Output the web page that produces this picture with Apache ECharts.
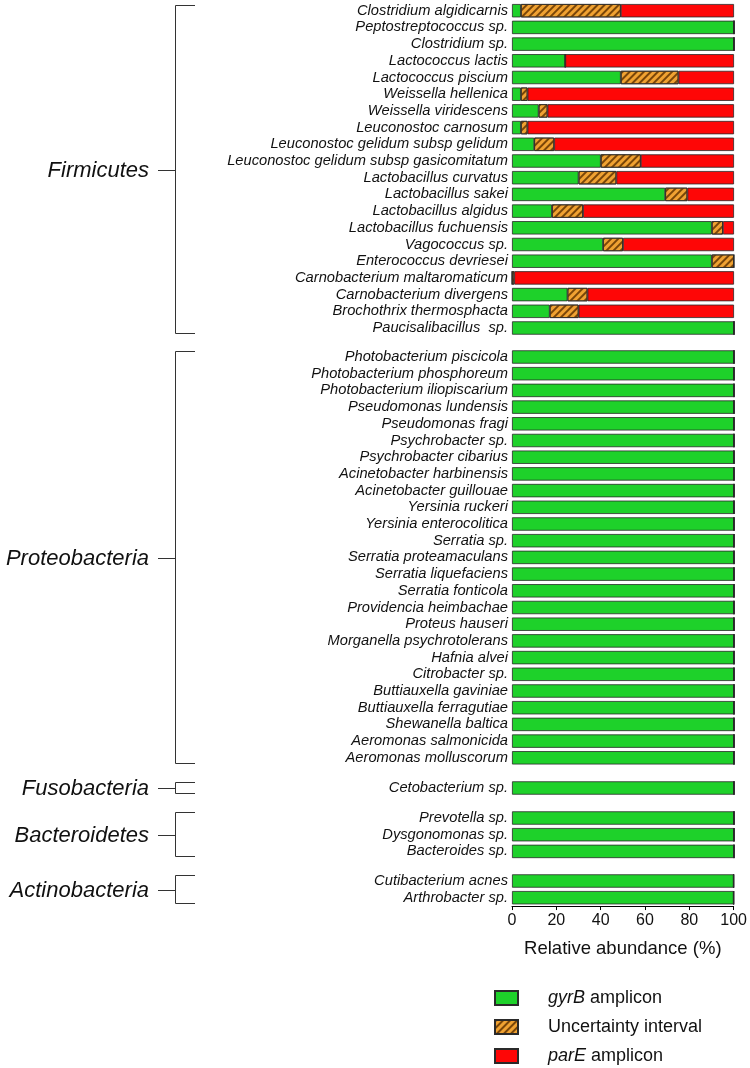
<!DOCTYPE html>
<html><head><meta charset="utf-8">
<script src="https://cdn.jsdelivr.net/npm/echarts@6/dist/echarts.min.js"></script>
<style>html,body{margin:0;padding:0;background:#fff}#c{width:750px;height:1068px}</style>
</head><body><div id="c"></div>
<script>
const groups = ['Firmicutes', 'Proteobacteria', 'Fusobacteria', 'Bacteroidetes', 'Actinobacteria'];
const groupSizes = [20, 25, 1, 3, 2];
const species = [
  'Clostridium algidicarnis', 'Peptostreptococcus sp.', 'Clostridium sp.', 'Lactococcus lactis',
  'Lactococcus piscium', 'Weissella hellenica', 'Weissella viridescens', 'Leuconostoc carnosum',
  'Leuconostoc gelidum subsp gelidum', 'Leuconostoc gelidum subsp gasicomitatum', 'Lactobacillus curvatus',
  'Lactobacillus sakei', 'Lactobacillus algidus', 'Lactobacillus fuchuensis', 'Vagococcus sp.',
  'Enterococcus devriesei', 'Carnobacterium maltaromaticum', 'Carnobacterium divergens',
  'Brochothrix thermosphacta', 'Paucisalibacillus  sp.',
  'Photobacterium piscicola', 'Photobacterium phosphoreum', 'Photobacterium iliopiscarium',
  'Pseudomonas lundensis', 'Pseudomonas fragi', 'Psychrobacter sp.', 'Psychrobacter cibarius',
  'Acinetobacter harbinensis', 'Acinetobacter guillouae', 'Yersinia ruckeri', 'Yersinia enterocolitica',
  'Serratia sp.', 'Serratia proteamaculans', 'Serratia liquefaciens', 'Serratia fonticola',
  'Providencia heimbachae', 'Proteus hauseri', 'Morganella psychrotolerans', 'Hafnia alvei',
  'Citrobacter sp.', 'Buttiauxella gaviniae', 'Buttiauxella ferragutiae', 'Shewanella baltica',
  'Aeromonas salmonicida', 'Aeromonas molluscorum',
  'Cetobacterium sp.',
  'Prevotella sp.', 'Dysgonomonas sp.', 'Bacteroides sp.',
  'Cutibacterium acnes', 'Arthrobacter sp.'
];
const gyrB = [
  4, 100, 100, 24, 49, 4, 12, 4, 10, 40, 30, 69, 18, 90, 41, 90, 0, 25, 17, 100,
  100, 100, 100, 100, 100, 100, 100, 100, 100, 100, 100, 100, 100, 100, 100, 100, 100, 100, 100, 100, 100, 100, 100, 100, 100,
  100,
  100, 100, 100,
  100, 100
];
const uncertainty = [
  45, 0, 0, 0, 26, 3, 4, 3, 9, 18, 17, 10, 14, 5, 9, 10, 1, 9, 13, 0,
  0, 0, 0, 0, 0, 0, 0, 0, 0, 0, 0, 0, 0, 0, 0, 0, 0, 0, 0, 0, 0, 0, 0, 0, 0,
  0,
  0, 0, 0,
  0, 0
];
const parE = [
  51, 0, 0, 76, 25, 93, 84, 93, 81, 42, 53, 21, 68, 5, 50, 0, 99, 66, 70, 0,
  0, 0, 0, 0, 0, 0, 0, 0, 0, 0, 0, 0, 0, 0, 0, 0, 0, 0, 0, 0, 0, 0, 0, 0, 0,
  0,
  0, 0, 0,
  0, 0
];
const xTicks = [0, 20, 40, 60, 80, 100];

const FONT = "'Liberation Sans', Arial, Helvetica, sans-serif";
const SLOT = 16.7;
const gridTops = [2.35, 348.65, 779.65, 809.65, 872.65];
const GREEN = '#1ed12a', ORANGE = '#f0a232', RED = '#fe0606', BORDER = '#2a2a2a';

const chart = echarts.init(document.getElementById('c'), null, {renderer: 'canvas'});

const grids = [], xAxes = [], yAxes = [], series = [];
let offset = 0;
const groupCats = [];
groups.forEach((g, i) => {
  const n = groupSizes[i];
  const cats = species.slice(offset, offset + n);
  groupCats.push(cats);
  const last = i === groups.length - 1;
  grids.push({left: 512, width: 222, top: gridTops[i], height: n * SLOT, containLabel: false});
  xAxes.push({
    type: 'value', gridIndex: i, min: xTicks[0], max: xTicks[xTicks.length - 1], interval: 20,
    show: last,
    splitLine: {show: false},
    axisLine: {show: true, lineStyle: {color: '#000', width: 1}},
    axisTick: {show: true, length: 4, lineStyle: {color: '#000'}},
    axisLabel: {show: true, fontSize: 16, color: '#111', fontFamily: FONT, margin: 7},
    name: last ? 'Relative abundance (%)' : '',
    nameLocation: 'middle', nameGap: 33,
    nameTextStyle: {fontSize: 18.5, color: '#111', fontFamily: FONT}
  });
  yAxes.push({
    type: 'category', gridIndex: i, data: cats, inverse: true,
    axisLine: {show: false}, axisTick: {show: false}, splitLine: {show: false},
    axisLabel: {fontSize: 14.7, fontStyle: 'italic', color: '#111', fontFamily: FONT, margin: 4, interval: 0}
  });
  const common = {type: 'bar', stack: 'g' + i, xAxisIndex: i, yAxisIndex: i, barCategoryGap: '20%', animation: false};
  series.push(Object.assign({}, common, {
    name: 'gyrB amplicon', data: gyrB.slice(offset, offset + n),
    itemStyle: {color: GREEN, borderColor: BORDER, borderWidth: 0.8}
  }));
  series.push(Object.assign({}, common, {
    name: 'Uncertainty interval', data: uncertainty.slice(offset, offset + n),
    itemStyle: {color: ORANGE, borderColor: BORDER, borderWidth: 0.8,
      decal: {symbol: 'rect', symbolSize: 1, dashArrayX: [[1, 0]], dashArrayY: [1.3, 2.2], rotation: -Math.PI / 4, color: '#7a4608'}}
  }));
  series.push(Object.assign({}, common, {
    name: 'parE amplicon', data: parE.slice(offset, offset + n),
    itemStyle: {color: RED, borderColor: BORDER, borderWidth: 0.8}
  }));
  offset += n;
});

const option = {
  backgroundColor: '#fff',
  animation: false,
  textStyle: {fontFamily: FONT},
  grid: grids, xAxis: xAxes, yAxis: yAxes, series: series,
  legend: {
    orient: 'vertical', left: 494, top: 989, width: 250, height: 200, padding: 0, itemGap: 11,
    itemWidth: 23, itemHeight: 14, icon: 'rect',
    data: ['gyrB amplicon', 'Uncertainty interval', 'parE amplicon'],
    selectedMode: false,
    formatter: function (name) {
      if (name === 'gyrB amplicon') return '{i|gyrB} amplicon';
      if (name === 'parE amplicon') return '{i|parE} amplicon';
      return name;
    },
    textStyle: {fontSize: 18, color: '#111', fontFamily: FONT, padding: [0, 0, 0, 25],
      rich: {i: {fontSize: 18, fontStyle: 'italic', color: '#111', fontFamily: FONT}}}
  }
};
chart.setOption(option);

const graphics = [];
groups.forEach((g, i) => {
  const cats = groupCats[i];
  const yTop = chart.convertToPixel({yAxisIndex: i}, cats[0]);
  const yBot = chart.convertToPixel({yAxisIndex: i}, cats[cats.length - 1]);
  const t = Math.round(yTop - 6) + 0.5, b = Math.round(yBot + 5) + 0.5;
  const m = Math.round((t + b) / 2) + 0.5;
  graphics.push({type: 'polyline', shape: {points: [[195, t], [175.5, t], [175.5, b], [195, b]]},
    style: {stroke: '#333', lineWidth: 1, fill: null}, silent: true});
  graphics.push({type: 'line', shape: {x1: 158, y1: m, x2: 175.5, y2: m}, style: {stroke: '#333', lineWidth: 1}, silent: true});
  graphics.push({type: 'text', x: 149, y: m, style: {text: g, fontSize: 22, fontStyle: 'italic', fontFamily: FONT,
    fill: '#111', align: 'right', verticalAlign: 'middle'}, silent: true});
});
chart.setOption({graphic: graphics});
</script></body></html>
